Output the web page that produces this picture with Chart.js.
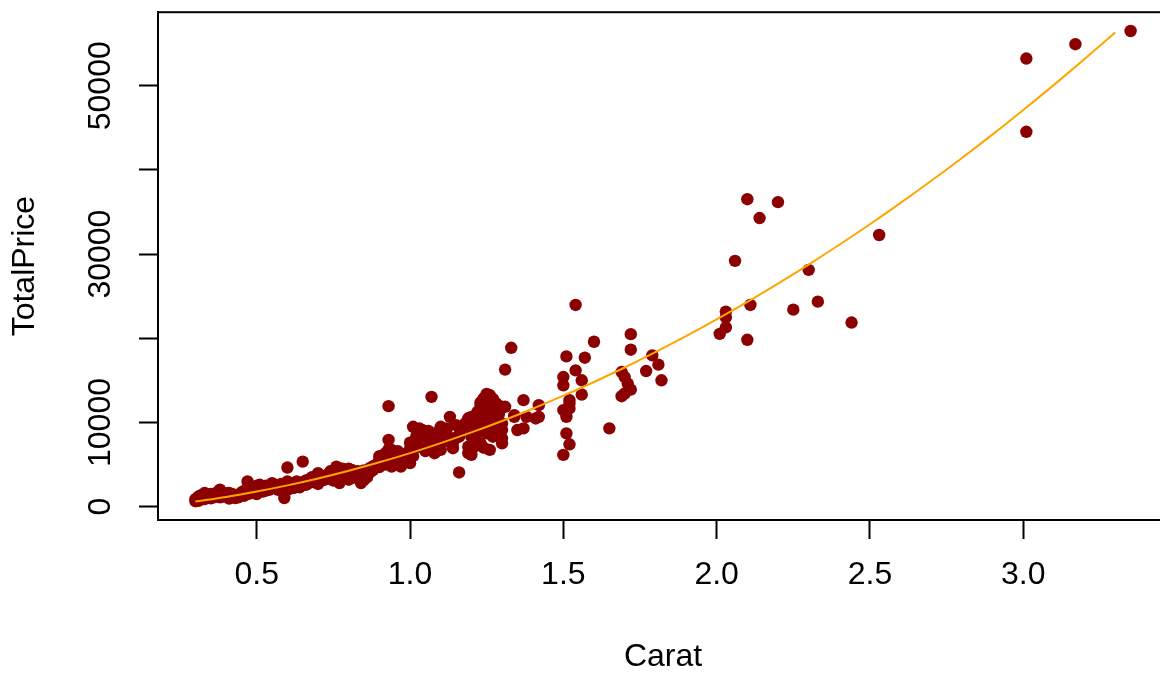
<!DOCTYPE html>
<html>
<head>
<meta charset="utf-8">
<title>TotalPrice vs Carat</title>
<script src="https://cdn.jsdelivr.net/npm/chart.js@4.4.1/dist/chart.umd.min.js"></script>
<style>
  html, body { margin: 0; padding: 0; overflow: hidden; background: #fff; }
</style>
</head>
<body>
<canvas id="diamondChart" width="1176" height="673"></canvas>
<script>
// diamonds: weight in carats and total price
var carat = [
  0.30, 0.31, 0.31, 0.32, 0.33, 0.33, 0.34, 0.35, 0.36, 0.37, 0.38, 0.38, 0.39, 0.40, 0.41, 0.41,
  0.42, 0.43, 0.44, 0.45, 0.46, 0.47, 0.47, 0.48, 0.49, 0.50, 0.50, 0.51, 0.52, 0.53, 0.54, 0.55,
  0.56, 0.57, 0.58, 0.59, 0.60, 0.60, 0.60, 0.61, 0.62, 0.63, 0.64, 0.65, 0.65, 0.66, 0.67, 0.68,
  0.69, 0.70, 0.70, 0.71, 0.72, 0.73, 0.74, 0.75, 0.76, 0.76, 0.77, 0.78, 0.78, 0.79, 0.80, 0.80,
  0.81, 0.82, 0.83, 0.84, 0.85, 0.86, 0.87, 0.88, 0.89, 0.90, 0.90, 0.91, 0.92, 0.92, 0.93, 0.93,
  0.94, 0.94, 0.95, 0.96, 0.97, 0.97, 0.98, 0.99, 1.00, 1.01, 1.01, 1.02, 1.02, 1.03, 1.03, 1.04,
  1.05, 1.06, 1.06, 1.07, 1.08, 1.08, 1.09, 1.10, 1.10, 1.11, 1.11, 1.12, 1.13, 1.14, 1.14, 1.15,
  1.16, 1.16, 1.16, 1.19, 1.19, 1.20, 1.20, 1.20, 1.21, 1.21, 1.21, 1.22, 1.22, 1.22, 1.23, 1.23,
  1.23, 1.23, 1.24, 1.24, 1.24, 1.25, 1.25, 1.25, 1.25, 1.26, 1.26, 1.26, 1.26, 1.27, 1.27, 1.27,
  1.28, 1.28, 1.29, 1.30, 1.30, 1.30, 1.30, 1.31, 1.31, 1.33, 1.34, 1.34, 1.35, 1.37, 1.37, 1.38,
  1.41, 1.42, 1.42, 1.50, 1.50, 1.50, 1.50, 1.51, 1.51, 1.51, 1.52, 1.52, 1.52, 1.52, 1.54, 1.54,
  1.56, 1.56, 1.57, 1.60, 1.65, 1.69, 1.69, 1.70, 1.70, 1.71, 1.72, 1.72, 1.72, 1.77, 1.79, 1.81,
  1.82, 2.01, 2.03, 2.03, 2.03, 2.06, 2.10, 2.10, 2.11, 2.14, 2.20, 2.25, 2.30, 2.33, 2.44, 2.53,
  3.01, 3.01, 3.17, 3.35,
  0.30, 0.31, 0.32, 0.34, 0.35, 0.36, 0.37, 0.39, 0.40, 0.42, 0.43, 0.44, 0.45, 0.46, 0.48, 0.49,
  0.50, 0.51, 0.52, 0.53, 0.54, 0.55, 0.56, 0.57, 0.58, 0.60, 0.62, 0.63, 0.64, 0.66, 0.67, 0.68,
  0.69, 0.70, 0.71, 0.72, 0.73, 0.74, 0.75, 0.76, 0.77, 0.78, 0.79, 0.80, 0.81, 0.82, 0.83, 0.84,
  0.85, 0.86, 0.87, 0.88, 0.90, 0.91, 0.92, 0.93, 0.95, 0.96, 1.00, 1.00, 1.01, 1.02, 1.03, 1.04,
  1.05, 1.07, 1.09, 1.12, 1.13, 1.15, 1.17, 1.18, 1.19, 1.20, 1.24, 1.25, 1.27, 1.28, 1.29
];
var totalPrice = [
  650, 830, 1200, 1050, 1620, 900, 1300, 1000, 1450, 1250, 2010, 1100, 1500, 1300, 1620, 950,
  1200, 1030, 1400, 1700, 1300, 2990, 1500, 2200, 1620, 1800, 2500, 2100, 2400, 1900, 2300, 2800,
  2200, 2400, 2700, 1030, 4650, 2000, 2600, 2400, 2700, 2990, 2300, 5350, 2900, 3100, 3190, 3500,
  2900, 3980, 3300, 3600, 3190, 3800, 4200, 3600, 4760, 4000, 2800, 3300, 4500, 4300, 3900, 3200,
  4370, 3580, 3700, 2800, 3190, 4100, 4600, 4370, 5000, 5560, 6000, 5950, 6350, 5000, 7920, 11940,
  6740, 4760, 5300, 5800, 4760, 6200, 5350, 6350, 5170, 7530, 9490, 7720, 8310, 8800, 9300, 9100,
  8300, 7130, 9000, 13040, 8710, 6350, 8800, 9490, 6740, 7920, 9100, 9300, 10670, 6940, 7600, 9690,
  8510, 4060, 8310, 7130, 6350, 8310, 6150, 10670, 10280, 7130, 9000, 11270, 9490, 8800, 12060, 7530,
  11000, 12400, 12850, 9800, 7000, 11470, 10280, 8710, 13400, 13240, 6740, 12000, 9300, 8310, 10800, 11500,
  12300, 9500, 11000, 9890, 7530, 9100, 8120, 11860, 16280, 18870, 10670, 10870, 9100, 9300, 12650, 10670,
  10480, 12060, 10670, 15400, 14420, 11470, 6150, 17850, 10670, 8710, 12650, 11670, 7410, 12260, 23960, 16190,
  15010, 13320, 17690, 19590, 9300, 15990, 13120, 15400, 13440, 14620, 20490, 18640, 13910, 16110, 17970, 16870,
  15010, 20530, 23170, 22490, 21310, 29200, 36520, 19820, 23960, 34280, 36170, 23400, 28130, 24350, 21870, 32270,
  53230, 44530, 54930, 56500,
  900, 700, 1400, 1100, 1500, 1100, 1700, 1200, 1600, 1500, 1300, 1100, 1300, 1900, 1600, 2000,
  1500, 2600, 1800, 2500, 2000, 2300, 2600, 2000, 2300, 3000, 2200, 2500, 2800, 2600, 2800, 3000,
  3300, 2700, 3100, 3500, 3300, 3500, 3100, 3500, 3900, 3800, 3600, 4500, 3400, 4000, 4200, 3600,
  4300, 3500, 4100, 4800, 4700, 5200, 5600, 6800, 6000, 6600, 6900, 7600, 6000, 8000, 7100, 8500,
  6600, 8100, 7500, 8600, 7700, 8200, 9100, 9900, 10500, 9500, 10600, 12500, 12800, 10300, 12000
];

// quadratic fit curve
var fitCarat = [
  0.3, 0.4, 0.5, 0.6, 0.7, 0.8, 0.9, 1.0, 1.1, 1.2, 1.3, 1.4, 1.5, 1.6, 1.7, 1.8,
  1.9, 2.0, 2.1, 2.2, 2.3, 2.4, 2.5, 2.6, 2.7, 2.8, 2.9, 3.0, 3.1, 3.2, 3.3
];
var fitPrice = [
  600, 1150, 1800, 2530, 3350, 4270, 5270, 6360, 7550, 8820, 10180, 11630, 13180, 14810, 16530, 18350,
  20250, 22240, 24320, 26500, 28760, 31110, 33550, 36090, 38710, 41420, 44220, 47120, 50100, 53170, 56330
];

var xTicks = [0.5, 1.0, 1.5, 2.0, 2.5, 3.0];
var yTicks = [0, 10000, 20000, 30000, 40000, 50000];
var yTickLabels = [0, 10000, 30000, 50000]; // R drops the ones that would overlap

// base R pads the data range by 4% on each side
function rRange(v) {
  var lo = Math.min.apply(null, v), hi = Math.max.apply(null, v);
  var d = (hi - lo) * 0.04;
  return [lo - d, hi + d];
}
var xr = rRange(carat);
var yr = rRange(totalPrice);

var FONT = 'Liberation Sans, Arial, Helvetica, sans-serif';
Chart.defaults.font.family = FONT;
Chart.defaults.color = '#000';

var boxPlugin = {
  id: 'box',
  afterDraw: function (chart) {
    var a = chart.chartArea, c = chart.ctx;
    c.save();
    c.strokeStyle = '#000';
    c.lineWidth = 2;
    c.strokeRect(a.left, a.top, a.right - a.left, a.bottom - a.top);
    c.restore();
  }
};

var ctx = document.getElementById('diamondChart');
var diamondChart = new Chart(ctx, {
  type: 'scatter',
  data: {
    datasets: [
      {
        type: 'line',
        label: 'fit',
        data: fitCarat.map(function (c, i) { return { x: c, y: fitPrice[i] }; }),
        borderColor: '#FFA500',
        borderWidth: 2,
        pointRadius: 0,
        fill: false,
        showLine: true,
        cubicInterpolationMode: 'monotone',
        order: 0
      },
      {
        label: 'diamonds',
        data: carat.map(function (c, i) { return { x: c, y: totalPrice[i] }; }),
        backgroundColor: '#8B0000',
        borderWidth: 0,
        pointRadius: 6.2,
        order: 1
      }
    ]
  },
  options: {
    responsive: false,
    devicePixelRatio: 1,
    animation: false,
    events: [],
    layout: { padding: { top: 10, right: 8, bottom: 0, left: 0 } },
    plugins: {
      legend: { display: false },
      tooltip: { enabled: false }
    },
    scales: {
      x: {
        type: 'linear',
        position: 'bottom',
        min: xr[0],
        max: xr[1],
        afterBuildTicks: function (s) { s.ticks = xTicks.map(function (v) { return { value: v }; }); },
        afterFit: function (s) { s.height = 153; },
        grid: { drawOnChartArea: false, tickLength: 19, tickWidth: 2, tickColor: '#000' },
        border: { display: true, color: '#000', width: 2 },
        ticks: {
          autoSkip: false,
          maxRotation: 0,
          padding: 17,
          color: '#000',
          font: { size: 32 },
          callback: function (v) { return Number(v).toFixed(1); }
        },
        title: { display: true, text: 'Carat', color: '#000', font: { size: 32 }, padding: { top: 0, bottom: -3 } }
      },
      y: {
        type: 'linear',
        position: 'left',
        min: yr[0],
        max: yr[1],
        afterBuildTicks: function (s) { s.ticks = yTicks.map(function (v) { return { value: v }; }); },
        afterFit: function (s) { s.width = 158; },
        grid: { drawOnChartArea: false, tickLength: 19, tickWidth: 2, tickColor: '#000' },
        border: { display: true, color: '#000', width: 2 },
        ticks: {
          autoSkip: false,
          minRotation: 90,
          maxRotation: 90,
          crossAlign: 'center',
          padding: -7,
          color: '#000',
          font: { size: 32 },
          callback: function (v) { return yTickLabels.indexOf(v) >= 0 ? String(v) : ''; }
        },
        title: { display: true, text: 'TotalPrice', color: '#000', font: { size: 32 }, padding: { top: 6, bottom: 0 } }
      }
    }
  },
  plugins: [boxPlugin]
});
</script>
</body>
</html>
